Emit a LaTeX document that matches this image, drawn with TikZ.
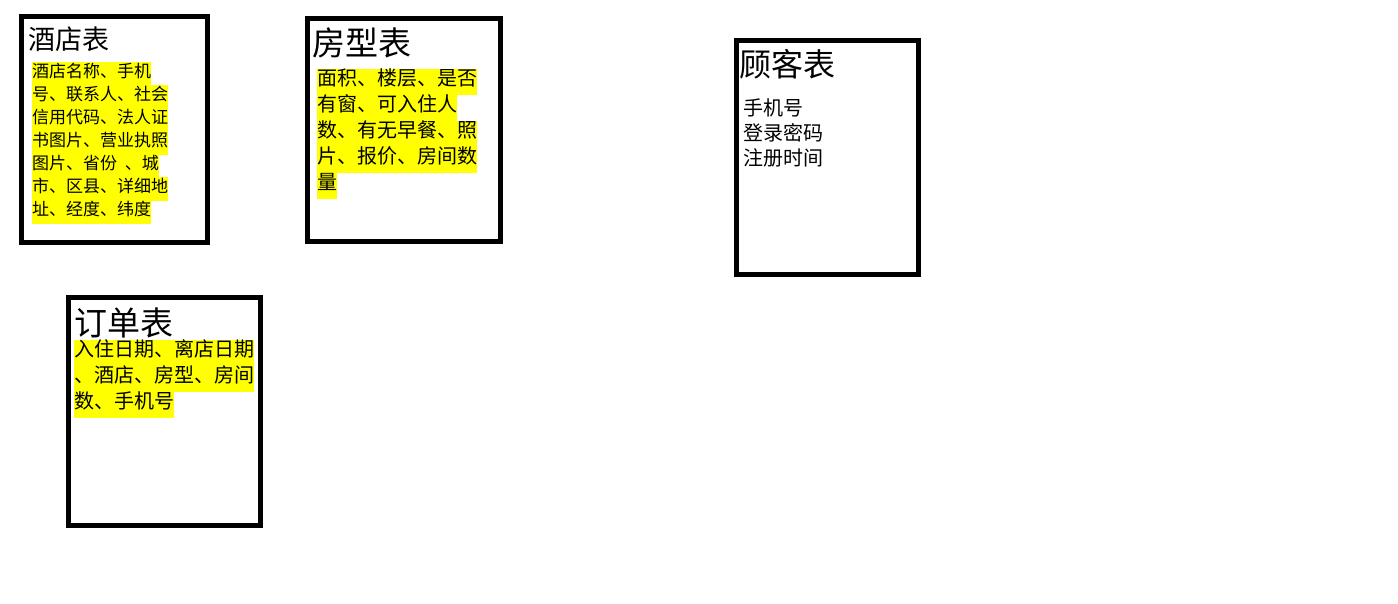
\documentclass[tikz,border=0pt]{standalone}
\usepackage{fontspec}
\newfontfamily\cjk{Noto Sans CJK SC}
\definecolor{hly}{RGB}{255,255,0}
\begin{document}
\begin{tikzpicture}[x=1pt,y=-1pt,
  tbl/.style={draw=black,line width=5pt},
  ttl/.style={anchor=west,inner sep=0pt,font=\cjk\fontsize{#1}{#1}\selectfont},
  hl/.style={anchor=west,inner sep=0pt,fill=hly,text height=0.86em,text depth=0.14em,font=\cjk\fontsize{#1}{#1}\selectfont},
  pl/.style={anchor=west,inner sep=0pt,font=\cjk\fontsize{#1}{#1}\selectfont}]
\useasboundingbox[fill=white] (0,0) rectangle (1398,604);
% boxes
\draw[tbl] (21.5,16.5) rectangle (207.5,243);
\draw[tbl] (307.5,18.5) rectangle (500.5,241.5);
\draw[tbl] (68.5,297.5) rectangle (260.5,525.5);
\draw[tbl] (736.5,40.5) rectangle (918.5,274.5);
% titles
\node[ttl=27] (t1) at (28,39) {酒店表};
\node[ttl=33] (t2) at (312,43) {房型表};
\node[ttl=33] (t3) at (74,323) {订单表};
\node[ttl=32] (t4) at (739,64) {顾客表};
% box 1 body
\node[hl=17,minimum height=23.6] (a1) at (32,74) {酒店名称、手机};
\node[hl=17,minimum height=23.6] (a2) at (32,97) {号、联系人、社会};
\node[hl=17,minimum height=23.6] (a3) at (32,120) {信用代码、法人证};
\node[hl=17,minimum height=23.6] (a4) at (32,143) {书图片、营业执照};
\node[hl=17,minimum height=23.6] (a5) at (32,166) {图片、省份\hspace{0.45em}、城};
\node[hl=17,minimum height=23.6] (a6) at (32,189) {市、区县、详细地};
\node[hl=17,minimum height=23.6] (a7) at (32,212) {址、经度、纬度};
% box 2 body
\node[hl=20,minimum height=26.4] (b1) at (317,82) {面积、楼层、是否};
\node[hl=20,minimum height=26.4] (b2) at (317,108) {有窗、可入住人};
\node[hl=20,minimum height=26.4] (b3) at (317,134) {数、有无早餐、照};
\node[hl=20,minimum height=26.4] (b4) at (317,160) {片、报价、房间数};
\node[hl=20,minimum height=26.4] (b5) at (317,186) {量};
% box 3 body
\node[hl=20,minimum height=26] (c1) at (74,353) {入住日期、离店日期};
\node[hl=20,minimum height=26] (c2) at (74,379) {、酒店、房型、房间};
\node[hl=20,minimum height=26] (c3) at (74,405) {数、手机号};
% box 4 body
\node[pl=20] (d1) at (743,108) {手机号};
\node[pl=20] (d2) at (743,133) {登录密码};
\node[pl=20] (d3) at (743,158) {注册时间};
\end{tikzpicture}
\end{document}
